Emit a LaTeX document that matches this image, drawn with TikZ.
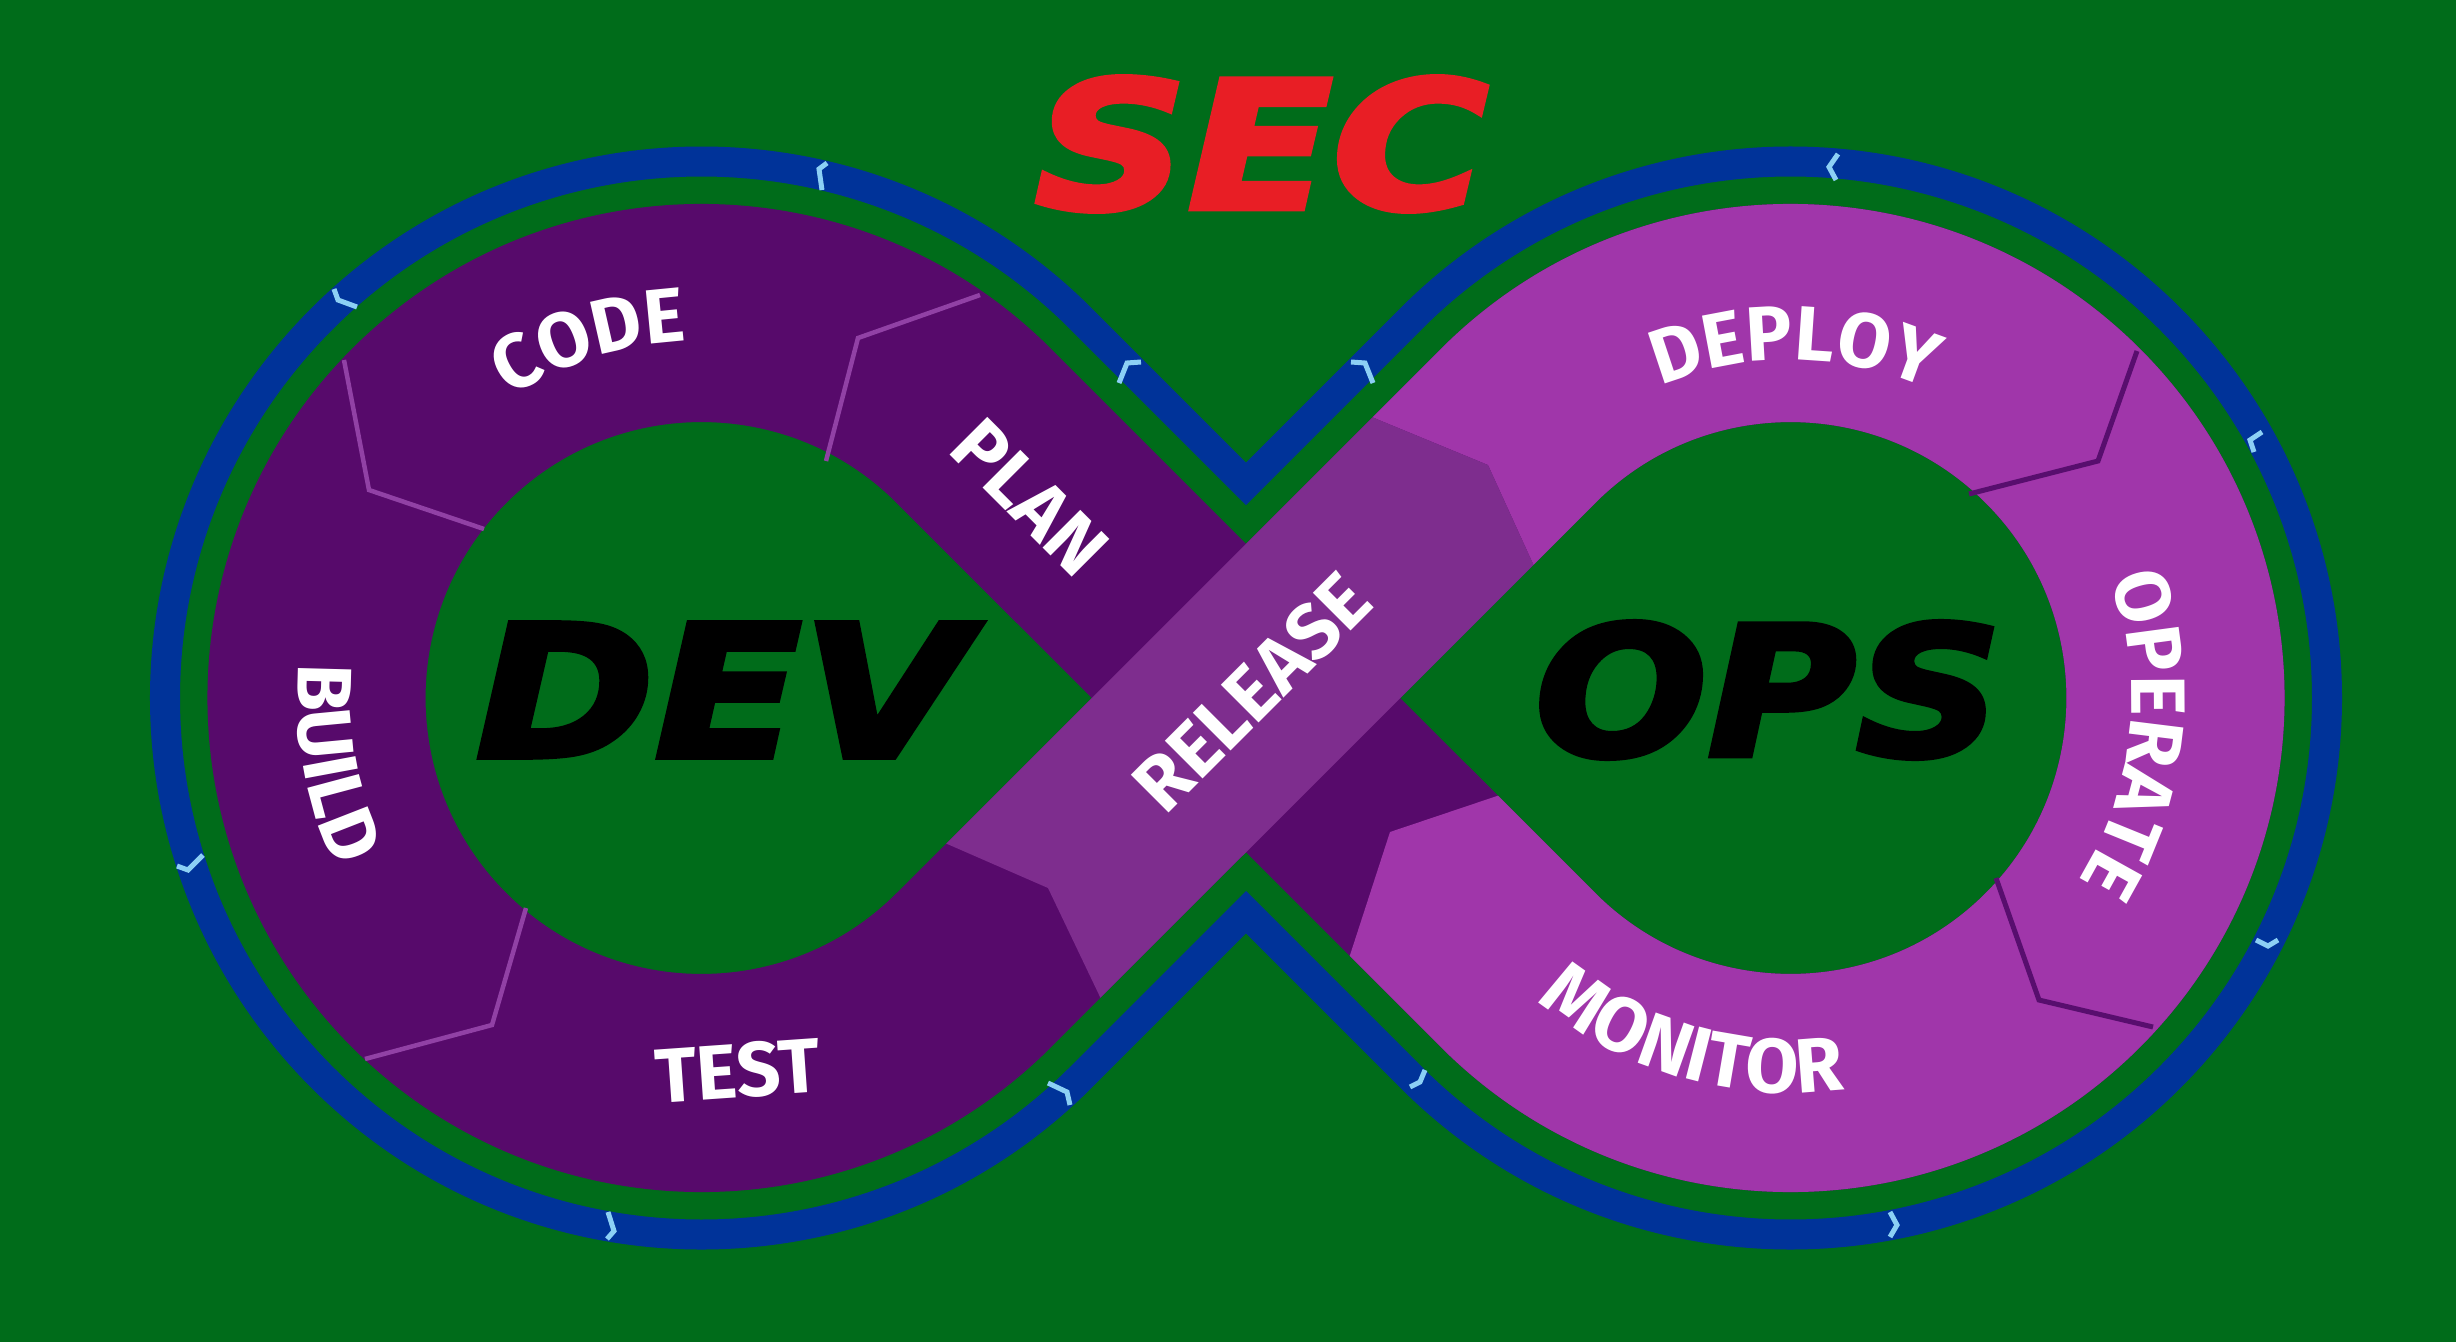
\documentclass[tikz,border=0pt]{standalone}
\usepackage{fontspec}
\usetikzlibrary{decorations.text}
\newfontfamily\labelfont{Fira Sans}
\newfontfamily\heavyfont{DejaVu Sans}[BoldItalicFeatures={FakeBold=3}]
\definecolor{bg}{RGB}{0,108,26}
\definecolor{ringblue}{RGB}{0,51,153}
\definecolor{tickblue}{RGB}{140,208,245}
\definecolor{darkp}{RGB}{87,10,107}
\definecolor{relp}{RGB}{126,45,142}
\definecolor{lightp}{RGB}{160,54,170}
\definecolor{divlight}{RGB}{145,65,165}
\definecolor{divdark}{RGB}{88,14,110}
\definecolor{secred}{RGB}{232,30,37}
\newcommand\lbl{\labelfont\bfseries\fontsize{21.9}{26}\selectfont}
\tikzset{
  blueband/.style={draw=ringblue,line width=0.30cm,line join=miter},
  band/.style={line width=2.18cm,line join=round},
  lightline/.style={draw=divlight,line width=0.045cm},
  darkline/.style={draw=divdark,line width=0.05cm},
  tickmark/.style={draw=tickblue,line width=0.05cm},
  flat/.style={text=white,font=\lbl,inner sep=0pt},
  arclabel/.style={decorate,decoration={text along path,text align=center,text color=white,text={|\lbl|#1}}},
  bigword/.style={inner sep=0pt}
}
\begin{document}
\begin{tikzpicture}[x=0.01cm,y=-0.01cm]
\useasboundingbox (0,0) rectangle (2456,1342);
\fill[bg] (0,0) rectangle (2456,1342);
% key points
\coordinate (CL) at (701.5,698);
\coordinate (CR) at (1790.5,698);
\coordinate (O) at (1246,698);
\coordinate (T1) at (973.74,425.76);
\coordinate (T2) at (973.74,970.24);
\coordinate (T3) at (1518.26,425.76);
\coordinate (T4) at (1518.26,970.24);
% outer blue band
\draw[blueband] (1080.86,318.64) arc[start angle=-45,end angle=-315,radius=536.5]
  -- (1246,912.22) -- (1411.14,1077.36) arc[start angle=135,end angle=-135,radius=536.5]
  -- (1246,483.78) -- cycle;
% ticks on the blue band
\draw[tickmark] (827,163) -- (819,169) -- (822,190);
\draw[tickmark] (334,289) -- (338,300) -- (357,307);
\draw[tickmark] (177,866) -- (188,870) -- (203,855);
\draw[tickmark] (608,1212) -- (614,1231) -- (607,1239);
\draw[tickmark] (1048,1083) -- (1067,1092) -- (1070,1105);
\draw[tickmark] (1119,383) -- (1127,363) -- (1141,362);
\draw[tickmark] (1373,383) -- (1365,363) -- (1351,362);
\draw[tickmark] (1838,154) -- (1829,167) -- (1836,180);
\draw[tickmark] (2262,432) -- (2250,440) -- (2254,452);
\draw[tickmark] (2256,940) -- (2268,946) -- (2278,940);
\draw[tickmark] (1890,1212) -- (1897,1225) -- (1890,1237);
\draw[tickmark] (1425,1070) -- (1420,1082) -- (1410,1087);
% purple band, dark everywhere first
\draw[band,draw=darkp] (T4) -- (T1) arc[start angle=-45,end angle=-315,radius=385]
  -- (T3) arc[start angle=-135,end angle=135,radius=385];
% right loop (light)
\begin{scope}
  \clip (1300,0) -- (1324,397) -- (1379,420) -- (1488,465) -- (1560,623) -- (1555,777)
    -- (1500,795) -- (1390,832) -- (1351,952) -- (1331,1012) -- (1400,1342)
    -- (2456,1342) -- (2456,0) -- cycle;
  \draw[band,draw=lightp] (O) -- (T3) arc[start angle=-135,end angle=135,radius=385] -- (O);
\end{scope}
% release diagonal on top
\begin{scope}
  \clip (1123,1045) -- (1048,888) -- (890,819) -- (1324,397) -- (1379,420)
    -- (1488,465) -- (1560,623) -- cycle;
  \draw[band,draw=relp] (T2) -- (T3);
\end{scope}
% dividers
\draw[lightline] (980,295) -- (858,338) -- (826,461);
\draw[lightline] (344,360) -- (369,490) -- (484,529);
\draw[lightline] (526,908) -- (492,1025) -- (365,1059);
\draw[darkline] (2137,351) -- (2098,461) -- (1969,494);
\draw[darkline] (1996,878) -- (2039,1000) -- (2153,1027);
% curved labels (y-up scope)
\begin{scope}[y=0.01cm]
\path[arclabel=CODE] (CL) ++(157.4:357) arc[start angle=157.4,end angle=57.4,radius=357];
\path[arclabel=BUILD] (CL) ++(-220:404) arc[start angle=-220,end angle=-120,radius=404];
\path[arclabel=DEPLOY] (CR) ++(139.3:338) arc[start angle=139.3,end angle=39.3,radius=338];
\path[arclabel=OPERATE] (CR) ++(44:341) arc[start angle=44,end angle=-56,radius=341];
\path[arclabel=MONITOR] (CR) ++(-156:395) arc[start angle=-156,end angle=-56,radius=395];
\end{scope}
% straight labels
\node[flat,rotate=4] (test) at (738,1071) {TEST};
\node[flat,rotate=-45] (plan) at (1030,497) {PLAN};
\node[flat,rotate=45] (release) at (1252,692) {RELEASE};
% big words
\node[bigword] (dev) at (722,690) {\resizebox{4.92cm}{1.34cm}{\heavyfont\bfseries\itshape DEV}};
\node[bigword] (ops) at (1768.5,690) {\resizebox{4.67cm}{1.34cm}{\heavyfont\bfseries\itshape OPS}};
\node[bigword,text=secred] (sec) at (1261.5,144) {\resizebox{4.53cm}{1.32cm}{\heavyfont\bfseries\itshape SEC}};
\end{tikzpicture}
\end{document}
